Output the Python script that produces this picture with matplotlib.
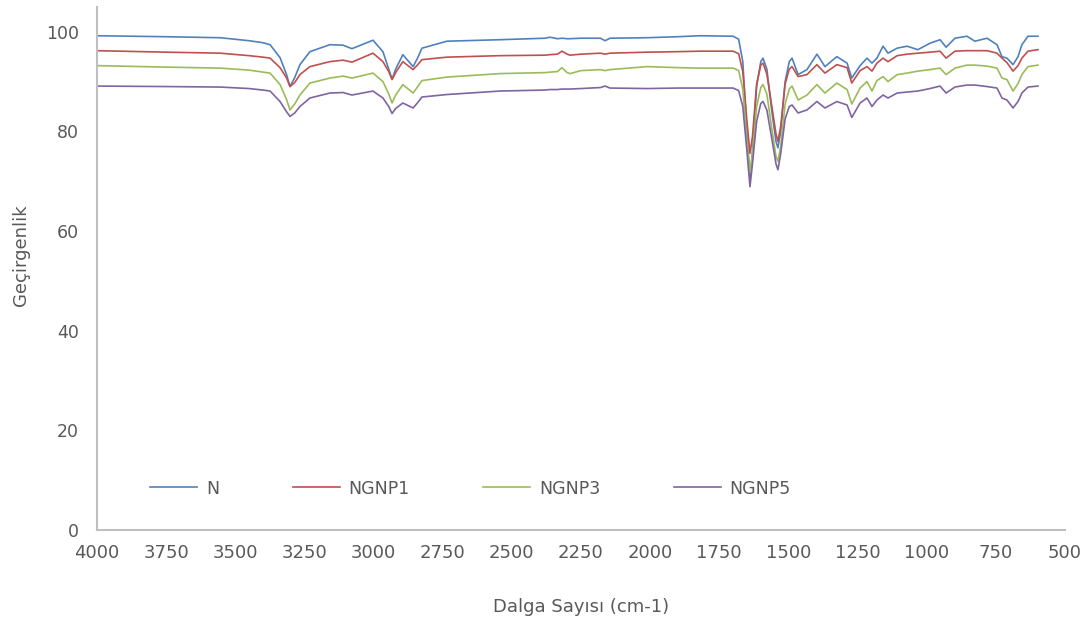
import matplotlib
matplotlib.use("Agg")
import matplotlib.pyplot as plt

# FTIR transmittance spectra (wavenumber in cm-1, transmittance in %)
wavenumber = [
    4000, 3750, 3555, 3450, 3400, 3374, 3338, 3315, 3302, 3285, 3266, 3230,
    3158, 3110, 3078, 3002, 2966, 2945, 2933, 2920, 2894, 2857, 2840, 2825,
    2735, 2543, 2380, 2362, 2335, 2319, 2300, 2290, 2250, 2180, 2163, 2145,
    2011, 1900, 1820, 1700, 1680, 1665, 1650, 1639, 1630, 1615, 1600, 1592,
    1578, 1560, 1545, 1538, 1528, 1512, 1497, 1487, 1465, 1433, 1397, 1368,
    1325, 1288, 1271, 1241, 1216, 1198, 1180, 1158, 1140, 1107, 1071, 1032,
    988, 952, 930, 898, 855, 826, 782, 746, 728, 710, 688, 670, 656, 634, 598,
]

n_values = [
    99.2, 99.0, 98.8, 98.2, 97.8, 97.4, 94.8, 91.5, 89.0, 90.8, 93.4, 96.0,
    97.4, 97.3, 96.6, 98.3, 96.0, 92.5, 90.5, 92.5, 95.4, 93.0, 94.8, 96.7,
    98.1, 98.4, 98.7, 98.9, 98.6, 98.7, 98.6, 98.6, 98.7, 98.7, 98.2, 98.7,
    98.8, 99.0, 99.2, 99.1, 98.5, 94.0, 80.0, 70.3, 76.0, 89.0, 94.0, 94.7,
    92.5, 84.0, 78.0, 76.7, 80.0, 90.0, 94.0, 94.7, 91.4, 92.4, 95.5, 93.0,
    95.0, 93.7, 90.7, 93.2, 94.7, 93.7, 94.7, 97.1, 95.7, 96.7, 97.1, 96.4,
    97.7, 98.4, 96.9, 98.7, 99.1, 98.1, 98.7, 97.4, 95.0, 94.7, 93.4, 95.0,
    97.4, 99.1, 99.1,
]

ngnp1_values = [
    96.2, 95.9, 95.7, 95.2, 94.9, 94.7, 92.8, 90.8, 89.0, 89.8, 91.4, 93.0,
    94.0, 94.3, 93.9, 95.7, 94.0, 92.0, 90.4, 91.8, 94.0, 92.4, 93.4, 94.4,
    94.9, 95.2, 95.3, 95.4, 95.5, 96.1, 95.5, 95.3, 95.5, 95.7, 95.5, 95.7,
    95.9, 96.0, 96.1, 96.1, 95.6, 92.0, 82.0, 75.6, 79.0, 89.5, 93.3, 93.7,
    91.5, 85.0, 79.5, 78.0, 81.0, 89.5, 92.5, 93.0, 91.0, 91.4, 93.4, 91.7,
    93.4, 92.8, 89.7, 92.2, 93.0, 92.1, 93.7, 94.7, 94.0, 95.2, 95.5, 95.7,
    95.9, 96.1, 94.7, 96.1, 96.2, 96.2, 96.2, 95.7, 94.7, 93.8, 92.1, 93.2,
    94.7, 96.1, 96.4,
]

ngnp3_values = [
    93.2, 92.9, 92.7, 92.3, 91.9, 91.7, 89.4, 86.5, 84.3, 85.5, 87.3, 89.7,
    90.7, 91.1, 90.7, 91.7, 90.0, 87.5, 85.7, 87.3, 89.4, 87.7, 89.0, 90.2,
    90.9, 91.6, 91.8, 91.9, 92.0, 92.8, 91.8, 91.6, 92.2, 92.4, 92.2, 92.4,
    93.0, 92.8, 92.7, 92.7, 92.2, 88.5, 78.0, 71.7, 75.5, 85.0, 88.8, 89.4,
    87.5, 80.5, 75.0, 74.0, 77.0, 85.5, 88.5, 89.1, 86.3, 87.3, 89.4, 87.7,
    89.7, 88.4, 85.5, 88.7, 90.0, 88.1, 90.2, 91.0, 90.0, 91.4, 91.7, 92.1,
    92.4, 92.7, 91.4, 92.7, 93.3, 93.3, 93.1, 92.7, 90.7, 90.4, 88.1, 89.6,
    91.4, 93.0, 93.3,
]

ngnp5_values = [
    89.1, 89.0, 88.9, 88.6, 88.3, 88.1, 86.0, 84.0, 83.0, 83.7, 85.0, 86.7,
    87.7, 87.8, 87.3, 88.1, 86.7, 85.0, 83.6, 84.6, 85.7, 84.7, 85.8, 86.9,
    87.4, 88.1, 88.3, 88.4, 88.4, 88.5, 88.5, 88.5, 88.6, 88.8, 89.1, 88.7,
    88.6, 88.7, 88.7, 88.7, 88.2, 85.0, 76.0, 68.9, 73.5, 82.0, 85.6, 86.0,
    84.3, 78.5, 73.5, 72.3, 75.5, 82.5, 85.0, 85.3, 83.7, 84.3, 86.0, 84.7,
    86.0, 85.3, 82.8, 85.7, 86.7, 85.0, 86.3, 87.3, 86.7, 87.7, 87.9, 88.1,
    88.6, 89.1, 87.7, 88.9, 89.3, 89.3, 89.0, 88.7, 86.7, 86.3, 84.7, 86.0,
    87.7, 88.9, 89.1,
]

series_names = ["N", "NGNP1", "NGNP3", "NGNP5"]
series_colors = ["#4F81BD", "#C0504D", "#9BBB59", "#8064A2"]

x_ticks = [4000, 3750, 3500, 3250, 3000, 2750, 2500, 2250, 2000, 1750, 1500, 1250, 1000, 750, 500]
y_ticks = [0, 20, 40, 60, 80, 100]

text_color = "#595959"
axis_color = "#BFBFBF"

fig = plt.figure(figsize=(10.89, 6.20), dpi=100)
ax = fig.add_axes([0.089, 0.145, 0.889, 0.844])

for values, name, color in zip(
    [n_values, ngnp1_values, ngnp3_values, ngnp5_values], series_names, series_colors
):
    ax.plot(wavenumber, values, color=color, lw=1.2, label=name,
            solid_joinstyle="round")

ax.set_xlim(4000, 500)
ax.set_ylim(0, 105)
ax.set_xticks(x_ticks)
ax.set_yticks(y_ticks)
ax.tick_params(axis="both", length=0, labelcolor=text_color)
ax.tick_params(axis="x", labelsize=13, pad=10)
ax.tick_params(axis="y", labelsize=12.5, pad=13)

for side in ("top", "right"):
    ax.spines[side].set_visible(False)
for side in ("left", "bottom"):
    ax.spines[side].set_color(axis_color)
    ax.spines[side].set_linewidth(1.5)

ax.set_xlabel("Dalga Sayısı (cm-1)", fontsize=13, color=text_color, labelpad=26)
ax.set_ylabel("Geçirgenlik", fontsize=13, color=text_color)
ax.yaxis.set_label_coords(-0.069, 0.525)

leg = ax.legend(loc="lower left", bbox_to_anchor=(0.048, 0.049), ncol=4,
                frameon=False, fontsize=12.5, handlelength=2.7,
                handletextpad=0.5, columnspacing=4.25, borderaxespad=0)
for t in leg.get_texts():
    t.set_color(text_color)

fig.savefig("out.png", dpi=100)
